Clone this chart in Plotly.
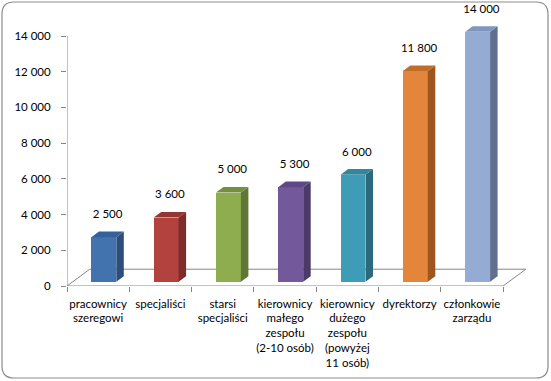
import plotly.graph_objects as go

# ---- data ----
categories = [
    "pracownicy<br>szeregowi",
    "specjaliści",
    "starsi<br>specjaliści",
    "kierownicy<br>małego<br>zespołu<br>(2-10 osób)",
    "kierownicy<br>dużego<br>zespołu<br>(powyżej<br>11 osób)",
    "dyrektorzy",
    "członkowie<br>zarządu",
]
values = [2500, 3600, 5000, 5300, 6000, 11800, 14000]
y_ticks = [0, 2000, 4000, 6000, 8000, 10000, 12000, 14000]

front_colors = ["#4373AE", "#B3423F", "#8DAD4F", "#73599C", "#3F9CB6", "#E3853A", "#94ACD4"]
side_colors = ["#2D4E7C", "#7C2C2A", "#5F7634", "#4B3A68", "#2A6A7C", "#9E5620", "#5E6F90"]
top_colors = ["#36609A", "#943634", "#74903E", "#5E4885", "#3486A0", "#C06D2A", "#7F96BE"]

# ---- geometry (layout) ----
W, H = 551, 381
L, R, T, B = 67, 21, 8, 95
pw, ph = W - L - R, H - T - B
px_per_cat = 62.3
x0 = -0.5
x1 = x0 + pw / px_per_cat
units_per_px = 14000 / 250.0
y1 = ph * units_per_px

n = len(values)
depth_dx, depth_dy = 0.365, 940          # full floor depth in data units
shift_dx, shift_dy = 0.25 * depth_dx, 0.25 * depth_dy   # bar front plane
bar_dx, bar_dy = 0.33 * depth_dx, 0.33 * depth_dy       # bar depth
bar_w = 0.4

FONT = "Lato, 'Open Sans', sans-serif"

fig = go.Figure()

# front faces
xs = [i + shift_dx for i in range(n)]
fig.add_trace(go.Bar(
    x=xs, y=values, base=shift_dy, width=bar_w,
    marker=dict(color=front_colors, line=dict(width=0)),
    hoverinfo="skip", showlegend=False,
))

# side and top faces
for i, v in enumerate(values):
    xl = xs[i] - bar_w / 2
    xr = xs[i] + bar_w / 2
    yb = shift_dy
    yt = shift_dy + v
    fig.add_trace(go.Scatter(
        x=[xr, xr, xr + bar_dx, xr + bar_dx, xr],
        y=[yb, yt, yt + bar_dy, yb + bar_dy, yb],
        fill="toself", fillcolor=side_colors[i], mode="lines",
        line=dict(width=0, color=side_colors[i]), hoverinfo="skip", showlegend=False,
    ))
    fig.add_trace(go.Scatter(
        x=[xl, xr, xr + bar_dx, xl + bar_dx, xl],
        y=[yt, yt, yt + bar_dy, yt + bar_dy, yt],
        fill="toself", fillcolor=top_colors[i], mode="lines",
        line=dict(width=0, color=top_colors[i]), hoverinfo="skip", showlegend=False,
    ))

# value labels
label_texts = [f"{v:,}".replace(",", " ") for v in values]
fig.add_trace(go.Scatter(
    x=[xs[i] + bar_dx / 2 for i in range(n)],
    y=[v + shift_dy + 22 * units_per_px for v in values],
    mode="text", text=label_texts, textposition="middle center",
    textfont=dict(family=FONT, size=11.5, color="#000000"),
    cliponaxis=False, hoverinfo="skip", showlegend=False,
))

line_col = "#868686"
shapes = []
# floor outline
floor = [
    (x0, 0, n - 0.5, 0),
    (x0, 0, x0 + depth_dx, depth_dy),
    (x0 + depth_dx, depth_dy, n - 0.5 + depth_dx, depth_dy),
    (n - 0.5, 0, n - 0.5 + depth_dx, depth_dy),
    (x0, 0, x0, y_ticks[-1]),
]
for (a, b, c, d) in floor:
    shapes.append(dict(type="line", xref="x", yref="y", x0=a, y0=b, x1=c, y1=d,
                       line=dict(color=line_col, width=1), layer="below"))

# rounded chart border
def px2x(p):
    return (p - L) / pw

def py2y(p):
    return (H - B - p) / ph

bx0, by0, bx1, by1, rr = 2, 2, 548, 378, 12
path = (
    f"M {px2x(bx0 + rr)} {py2y(by0)} L {px2x(bx1 - rr)} {py2y(by0)} "
    f"Q {px2x(bx1)} {py2y(by0)} {px2x(bx1)} {py2y(by0 + rr)} "
    f"L {px2x(bx1)} {py2y(by1 - rr)} "
    f"Q {px2x(bx1)} {py2y(by1)} {px2x(bx1 - rr)} {py2y(by1)} "
    f"L {px2x(bx0 + rr)} {py2y(by1)} "
    f"Q {px2x(bx0)} {py2y(by1)} {px2x(bx0)} {py2y(by1 - rr)} "
    f"L {px2x(bx0)} {py2y(by0 + rr)} "
    f"Q {px2x(bx0)} {py2y(by0)} {px2x(bx0 + rr)} {py2y(by0)} Z"
)
shapes.append(dict(type="path", xref="paper", yref="paper", path=path,
                   line=dict(color="#8C8C8C", width=1.2), layer="below"))

fig.update_layout(
    width=W, height=H,
    margin=dict(l=L, r=R, t=T, b=B, autoexpand=False),
    paper_bgcolor="white", plot_bgcolor="white",
    separators=", ",
    showlegend=False,
    shapes=shapes,
    font=dict(family=FONT, size=11, color="#000000"),
    xaxis=dict(
        range=[x0, x1], showgrid=False, zeroline=False, showline=False,
        tickmode="array", tickvals=list(range(n)), ticktext=categories,
        ticks="", ticklabelstandoff=9, automargin=False,
        tickfont=dict(family=FONT, size=11.5, color="#000000"),
        minor=dict(tickmode="array", tickvals=[i - 0.5 for i in range(n + 1)],
                   ticks="outside", ticklen=5, tickcolor=line_col, tickwidth=1, showgrid=False),
        fixedrange=True,
    ),
    yaxis=dict(
        range=[0, y1], showgrid=False, zeroline=False, showline=False,
        tickmode="array", tickvals=y_ticks, tickformat=",d",
        ticks="outside", ticklen=5, tickcolor=line_col, tickwidth=1,
        ticklabelstandoff=8, automargin=False,
        tickfont=dict(family=FONT, size=11.5, color="#000000"),
        fixedrange=True,
    ),
    bargap=0,
)

fig.write_html(
    "out.html",
    config={"displayModeBar": False},
    post_script="document.body.style.margin='0px';document.body.style.overflow='hidden';",
)
